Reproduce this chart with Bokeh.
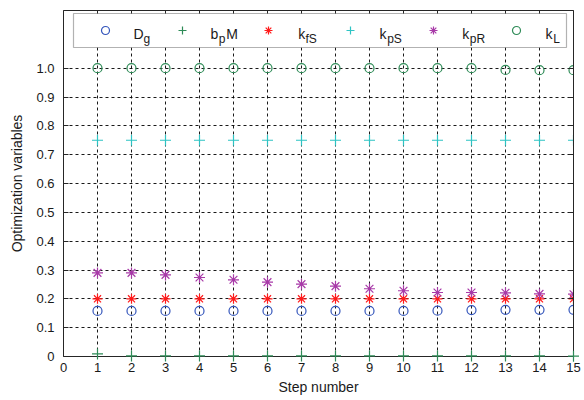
from bokeh.plotting import figure
from bokeh.models import (Range1d, FixedTicker, LinearAxis, Legend, LegendItem,
                          Label, BoxAnnotation, ColumnDataSource, CustomJSTickFormatter)
from bokeh.embed import file_html
from bokeh.resources import INLINE

# ---------------- data ----------------
steps = [1, 2, 3, 4, 5, 6, 7, 8, 9, 10, 11, 12, 13, 14, 15]
D_g = [0.158, 0.158, 0.158, 0.158, 0.158, 0.158, 0.158, 0.158, 0.158, 0.158, 0.159, 0.161, 0.162, 0.162, 0.162]
b_pM = [0.009, 0.002, 0.002, 0.002, 0.002, 0.002, 0.002, 0.002, 0.002, 0.002, 0.002, 0.002, 0.002, 0.002, 0.001]
k_fS = [0.2, 0.2, 0.2, 0.2, 0.2, 0.2, 0.2, 0.2, 0.2, 0.2, 0.2, 0.2, 0.2, 0.2, 0.2]
k_pS = [0.75, 0.75, 0.75, 0.75, 0.75, 0.75, 0.75, 0.75, 0.75, 0.75, 0.75, 0.75, 0.75, 0.75, 0.75]
k_pR = [0.290, 0.290, 0.283, 0.274, 0.266, 0.258, 0.251, 0.244, 0.235, 0.228, 0.222, 0.222, 0.221, 0.217, 0.216]
k_L = [1.0, 1.0, 1.0, 1.0, 1.0, 1.0, 1.0, 1.0, 1.0, 1.0, 1.0, 1.0, 0.994, 0.993, 0.993]

x_ticks = [0, 1, 2, 3, 4, 5, 6, 7, 8, 9, 10, 11, 12, 13, 14, 15]
y_ticks = [0, 0.1, 0.2, 0.3, 0.4, 0.5, 0.6, 0.7, 0.8, 0.9, 1.0]
y_tick_labels = ["0", "0.1", "0.2", "0.3", "0.4", "0.5", "0.6", "0.7", "0.8", "0.9", "1.0"]

legend_main = ["D", "b", "k", "k", "k", "k"]
legend_sub = ["g", "p", "fS", "pS", "pR", "L"]
legend_suffix = ["", "M", "", "", "", ""]

# ---------------- figure ----------------
FONT = "Liberation Sans"
p = figure(width=584, height=400, output_backend="svg", toolbar_location=None,
           x_range=Range1d(0, 15), y_range=Range1d(0, 1.2),
           min_border_left=63, min_border_right=11, min_border_top=10, min_border_bottom=44)
p.background_fill_color = "white"
p.border_fill_color = "white"
p.outline_line_color = None

# axes
for ax in [p.xaxis[0], p.yaxis[0]]:
    ax.major_tick_in = 5
    ax.major_tick_out = 0
    ax.minor_tick_line_color = None
    ax.axis_line_color = "#262626"
    ax.major_tick_line_color = "#262626"
    ax.major_label_text_font = FONT
    ax.major_label_text_font_size = "13px"
    ax.major_label_text_color = "#1a1a1a"
    ax.axis_label_text_font = FONT
    ax.axis_label_text_font_size = "14px"
    ax.axis_label_text_font_style = "normal"
    ax.axis_label_text_color = "#1a1a1a"

p.xaxis.ticker = FixedTicker(ticks=x_ticks)
p.yaxis.ticker = FixedTicker(ticks=y_ticks)
p.yaxis.major_label_overrides = {t: s for t, s in zip(y_ticks, y_tick_labels)}
p.xaxis.axis_label = "Step number"
p.yaxis.axis_label = "Optimization variables"
p.xaxis.major_label_standoff = 6
p.yaxis.major_label_standoff = 9
p.xaxis.axis_label_standoff = 4
p.yaxis.axis_label_standoff = 8

blank = CustomJSTickFormatter(code="return ''")
top = LinearAxis(ticker=FixedTicker(ticks=x_ticks), formatter=blank)
right = LinearAxis(ticker=FixedTicker(ticks=y_ticks), formatter=blank)
for ax in [top, right]:
    ax.major_tick_in = 5
    ax.major_tick_out = 0
    ax.minor_tick_line_color = None
    ax.axis_line_color = "#262626"
    ax.major_tick_line_color = "#262626"
    ax.major_label_text_font_size = "0px"
    ax.major_label_standoff = 0
p.add_layout(top, "above")
p.add_layout(right, "right")

# grid
p.xgrid.ticker = FixedTicker(ticks=x_ticks)
p.ygrid.ticker = FixedTicker(ticks=y_ticks)
for g in [p.xgrid[0], p.ygrid[0]]:
    g.grid_line_color = "black"
    g.grid_line_dash = "3 3"
    g.grid_line_width = 1
    g.grid_line_alpha = 0.9

src = ColumnDataSource(dict(x=steps, D_g=D_g, b_pM=b_pM, k_fS=k_fS, k_pS=k_pS, k_pR=k_pR, k_L=k_L))

colors = {"D_g": "#3355bb", "b_pM": "#2e8b57", "k_fS": "#ff1a1a",
          "k_pS": "#2ec4c4", "k_pR": "#a83aa8", "k_L": "#2e8b57"}
markers = {"D_g": ("circle", 9), "b_pM": ("cross", 11), "k_fS": ("asterisk", 10),
           "k_pS": ("cross", 11), "k_pR": ("asterisk", 11), "k_L": ("circle", 9)}

renderers = {}
for key in ["D_g", "b_pM", "k_fS", "k_pS", "k_pR", "k_L"]:
    m, s = markers[key]
    renderers[key] = p.scatter("x", key, source=src, marker=m, size=s,
                               fill_color=None, line_color=colors[key], line_width=1.2,
                               level="overlay" if key == "b_pM" else "glyph")

# ---------------- legend ----------------
box = BoxAnnotation(left=10, right=503, bottom=309, top=343,
                    left_units="screen", right_units="screen",
                    bottom_units="screen", top_units="screen",
                    fill_color="white", fill_alpha=1.0, line_color="black", line_width=1.2)
p.add_layout(box)

marker_cx = [42, 118.7, 205, 287, 369.7, 453]
marker_cy = 326.5
text_x = [70, 147, 234.7, 316, 398.7, 482]
sub_x = [80, 155.3, 242, 323.7, 406.3, 489.7]
suffix_x = [0, 162.7, 0, 0, 0, 0]

for i, key in enumerate(["D_g", "b_pM", "k_fS", "k_pS", "k_pR", "k_L"]):
    lg = Legend(items=[LegendItem(label=" ", renderers=[renderers[key]])],
                location=(marker_cx[i] - 10, marker_cy - 10),
                glyph_width=20, glyph_height=20, padding=0, margin=0,
                label_standoff=0, label_width=0, label_height=0,
                label_text_font_size="1px",
                border_line_color=None, background_fill_alpha=0.0)
    p.add_layout(lg)
    p.add_layout(Label(x=text_x[i], y=323, x_units="screen", y_units="screen",
                       text=legend_main[i], text_font=FONT, text_font_size="14px",
                       text_color="#1a1a1a", text_baseline="alphabetic"))
    p.add_layout(Label(x=sub_x[i], y=318, x_units="screen", y_units="screen",
                       text=legend_sub[i], text_font=FONT, text_font_size="12px",
                       text_color="#1a1a1a", text_baseline="alphabetic"))
    if legend_suffix[i]:
        p.add_layout(Label(x=suffix_x[i], y=323, x_units="screen", y_units="screen",
                           text=legend_suffix[i], text_font=FONT, text_font_size="14px",
                           text_color="#1a1a1a", text_baseline="alphabetic"))

open("out.html", "w").write(file_html(p, INLINE))
